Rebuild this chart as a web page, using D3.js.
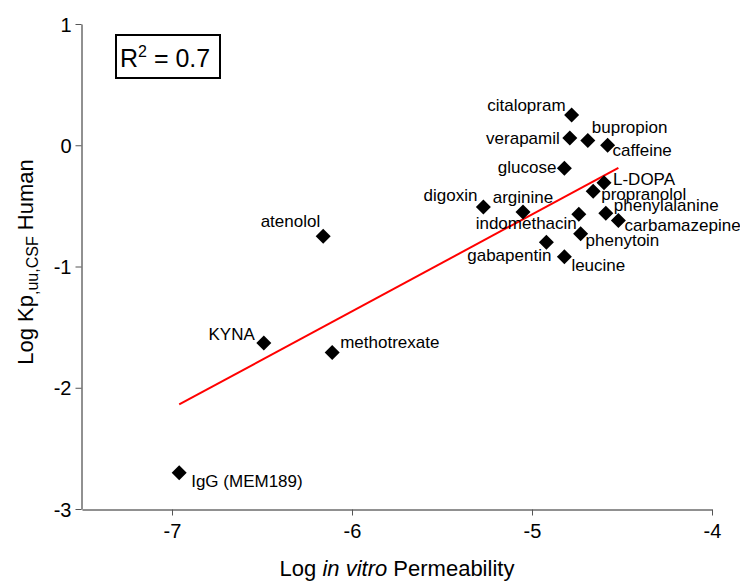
<!DOCTYPE html>
<html>
<head>
<meta charset="utf-8">
<script src="https://cdn.jsdelivr.net/npm/d3@7"></script>
<style>
  html, body { margin: 0; padding: 0; background: #fff; }
  svg { display: block; font-family: "Liberation Sans", Arial, sans-serif; }
</style>
</head>
<body>
<div id="chart"></div>
<script>
// Data.
var compounds = [
  "IgG (MEM189)", "KYNA", "methotrexate", "atenolol", "digoxin", "arginine",
  "gabapentin", "glucose", "leucine", "citalopram", "verapamil", "indomethacin",
  "phenytoin", "bupropion", "propranolol", "L-DOPA", "phenylalanine", "caffeine",
  "carbamazepine"
];
var logPermeability = [
  -6.96, -6.49, -6.11, -6.16, -5.27, -5.05,
  -4.92, -4.82, -4.82, -4.78, -4.79, -4.74,
  -4.73, -4.69, -4.66, -4.60, -4.59, -4.58,
  -4.52
];
var logKpuu = [
  -2.70, -1.63, -1.71, -0.75, -0.51, -0.55,
  -0.80, -0.19, -0.92, 0.25, 0.06, -0.57,
  -0.73, 0.04, -0.38, -0.31, -0.56, 0.00,
  -0.62
];
var xTicks = [-7, -6, -5, -4];
var yTicks = [-3, -2, -1, 0, 1];
var fitRange = [-6.96, -4.52];
var fitSlope = 0.80;
var fitIntercept = 3.43;
var rSquared = "0.7";

(function () {
  "use strict";

  var width = 740, height = 581;
  var margin = { top: 24, right: 28, bottom: 72, left: 82 };

  // Label placement next to each diamond: [anchor, dx, dy].
  var labelPos = {
    "IgG (MEM189)": ["start", 12, 14],
    "KYNA": ["end", -9, -3],
    "methotrexate": ["start", 8, -5],
    "atenolol": ["end", -3, -9],
    "digoxin": ["end", -6, -6],
    "arginine": ["middle", 0, -9],
    "gabapentin": ["end", 5, 19],
    "glucose": ["end", -8, 5],
    "leucine": ["start", 7, 14],
    "citalopram": ["end", -6, -4],
    "verapamil": ["end", -10, 6],
    "indomethacin": ["end", -2, 15],
    "phenytoin": ["start", 5, 12],
    "bupropion": ["start", 4, -7],
    "propranolol": ["start", 8, 9],
    "L-DOPA": ["start", 9, 2],
    "phenylalanine": ["start", 8, -2],
    "caffeine": ["start", 5, 11],
    "carbamazepine": ["start", 6, 11]
  };

  var points = compounds.map(function (name, i) {
    return { name: name, x: logPermeability[i], y: logKpuu[i] };
  });

  var svg = d3.select("#chart").append("svg")
    .attr("width", width)
    .attr("height", height);

  var x = d3.scaleLinear().domain([-7.5, -4]).range([margin.left, width - margin.right]);
  var y = d3.scaleLinear().domain([-3, 1]).range([height - margin.bottom, margin.top]);

  // Axes.
  var xAxis = svg.append("g")
    .attr("transform", "translate(0," + (height - margin.bottom + 0.5) + ")")
    .call(d3.axisBottom(x).tickValues(xTicks).tickFormat(d3.format("d"))
      .tickSize(6).tickSizeOuter(0).tickPadding(8));
  var yAxis = svg.append("g")
    .attr("transform", "translate(" + (margin.left - 0.5) + ",0)")
    .call(d3.axisLeft(y).tickValues(yTicks).tickFormat(d3.format("d"))
      .tickSize(6).tickSizeOuter(0).tickPadding(4));

  [xAxis, yAxis].forEach(function (ax) {
    ax.select(".domain").attr("stroke", "#222");
    ax.selectAll(".tick line").attr("stroke", "#555");
    ax.selectAll(".tick text")
      .attr("fill", "#000")
      .style("font-size", "20px")
      .style("font-family", "'Liberation Sans', Arial, sans-serif")
      .text(function (d) { return d < 0 ? "-" + Math.abs(d) : d; });
  });
  yAxis.selectAll(".tick text").attr("dy", "0.36em");

  // Axis titles.
  var xTitle = svg.append("text")
    .attr("x", (x.range()[0] + x.range()[1]) / 2)
    .attr("y", 576)
    .attr("text-anchor", "middle")
    .style("font-size", "22px");
  xTitle.append("tspan").text("Log ");
  xTitle.append("tspan").style("font-style", "italic").text("in vitro");
  xTitle.append("tspan").text(" Permeability");

  var yTitle = svg.append("text")
    .attr("transform", "translate(33,262) rotate(-90)")
    .attr("text-anchor", "middle")
    .style("font-size", "22px");
  yTitle.append("tspan").text("Log Kp");
  yTitle.append("tspan").attr("dy", 5).style("font-size", "16px").text(",uu,CSF");
  yTitle.append("tspan").attr("dy", -5).text(" Human");

  // Regression line.
  svg.append("line")
    .attr("x1", x(fitRange[0]))
    .attr("y1", y(fitSlope * fitRange[0] + fitIntercept))
    .attr("x2", x(fitRange[1]))
    .attr("y2", y(fitSlope * fitRange[1] + fitIntercept))
    .attr("stroke", "#ff0000")
    .attr("stroke-width", 2);

  // Diamonds.
  var r = 7.5;
  var diamond = "M0," + (-r) + "L" + r + ",0L0," + r + "L" + (-r) + ",0Z";
  svg.append("g").selectAll("path")
    .data(points).enter().append("path")
    .attr("d", diamond)
    .attr("transform", function (d) { return "translate(" + x(d.x) + "," + y(d.y) + ")"; })
    .attr("fill", "#000");

  // Point labels.
  svg.append("g").selectAll("text")
    .data(points).enter().append("text")
    .attr("x", function (d) { return x(d.x) + labelPos[d.name][1]; })
    .attr("y", function (d) { return y(d.y) + labelPos[d.name][2]; })
    .attr("text-anchor", function (d) { return labelPos[d.name][0]; })
    .style("font-size", "17px")
    .attr("fill", "#000")
    .text(function (d) { return d.name; });

  // R squared box.
  svg.append("rect")
    .attr("x", 116).attr("y", 35)
    .attr("width", 104).attr("height", 43)
    .attr("fill", "#fff")
    .attr("stroke", "#000")
    .attr("stroke-width", 2);
  var rText = svg.append("text")
    .attr("x", 120).attr("y", 67)
    .style("font-size", "25px");
  rText.append("tspan").text("R");
  rText.append("tspan").attr("dy", -10).style("font-size", "16px").text("2");
  rText.append("tspan").attr("dy", 10).text(" = " + rSquared);
})();
</script>
</body>
</html>
